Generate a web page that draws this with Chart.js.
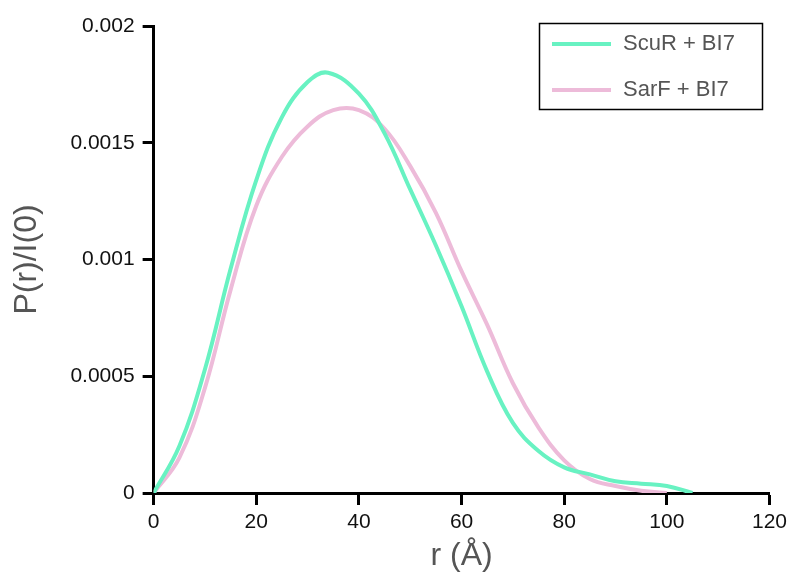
<!DOCTYPE html>
<html>
<head>
<meta charset="utf-8">
<script src="https://cdn.jsdelivr.net/npm/chart.js@4.4.0/dist/chart.umd.min.js"></script>
<style>
  html, body { margin: 0; padding: 0; background: #fff; }
  #wrap { width: 794px; height: 578px; }
</style>
</head>
<body>
<div id="wrap"><canvas id="chart" width="794" height="578"></canvas></div>
<script>
// r values (Å) and P(r)/I(0)
const scurR = [0, 5, 10, 15, 20, 25, 30, 34, 40, 45, 50, 55, 60, 65, 70, 75, 80, 85, 90, 95, 100, 105];
const scurP = [0, 0.0002, 0.00053, 0.00096, 0.00134, 0.00161, 0.00176, 0.0018, 0.00171, 0.00154, 0.0013, 0.00106, 0.0008, 0.00052, 0.0003, 0.00018, 0.00011, 0.00008, 0.00005, 0.00004, 0.00003, 0];

const sarfR = [0, 5, 10, 15, 20, 25, 30, 35, 40, 45, 50, 55, 60, 65, 70, 75, 80, 85, 90, 95, 100];
const sarfP = [0, 0.00015, 0.00045, 0.00087, 0.00123, 0.00144, 0.00157, 0.00164, 0.00164, 0.00156, 0.0014, 0.0012, 0.00095, 0.00072, 0.00047, 0.00028, 0.00014, 0.00006, 0.00003, 0.00001, 0];

const seriesNames = ['ScuR + BI7', 'SarF + BI7'];
const seriesColors = ['#68F2C2', '#EDBBD9'];
const xTicks = [0, 20, 40, 60, 80, 100, 120];
const yTicks = [0, 0.0005, 0.001, 0.0015, 0.002];

function toPoints(xs, ys) {
    return xs.map((x, i) => ({ x: x, y: ys[i] }));
}

// legend box with a thin black border, top right
const boxLegend = {
    id: 'boxLegend',
    afterDraw(chart) {
        const ctx = chart.ctx;
        ctx.save();
        ctx.strokeStyle = '#000';
        ctx.lineWidth = 1.5;
        ctx.strokeRect(539.5, 23.5, 223, 86);
        chart.data.datasets.forEach((ds, i) => {
            const y = 44 + i * 46;
            ctx.strokeStyle = ds.borderColor;
            ctx.lineWidth = 4;
            ctx.beginPath();
            ctx.moveTo(552, y);
            ctx.lineTo(611, y);
            ctx.stroke();
            ctx.fillStyle = '#555';
            ctx.font = '22px Arial, "Liberation Sans", sans-serif';
            ctx.textBaseline = 'middle';
            ctx.fillText(ds.label, 623, y);
        });
        ctx.restore();
    }
};

const ctx = document.getElementById('chart').getContext('2d');
const myChart = new Chart(ctx, {
    type: 'scatter',
    data: {
        datasets: [
            {
                label: seriesNames[0],
                data: toPoints(scurR, scurP),
                borderColor: seriesColors[0],
                showLine: true,
                borderWidth: 4,
                pointRadius: 0,
                tension: 0.4
            },
            {
                label: seriesNames[1],
                data: toPoints(sarfR, sarfP),
                borderColor: seriesColors[1],
                showLine: true,
                borderWidth: 4,
                pointRadius: 0,
                tension: 0.4
            }
        ]
    },
    options: {
        responsive: false,
        animation: false,
        layout: { padding: { left: 8, right: 10, top: 26, bottom: 6 } },
        plugins: {
            legend: { display: false },
            tooltip: { enabled: false }
        },
        scales: {
            x: {
                type: 'linear',
                min: 0,
                max: 120,
                afterBuildTicks: axis => { axis.ticks = xTicks.map(v => ({ value: v })); },
                grid: { display: true, drawOnChartArea: false, drawTicks: true, tickLength: 12, tickWidth: 3, tickColor: '#000' },
                border: { display: true, width: 3, color: '#000' },
                ticks: {
                    color: '#111',
                    font: { family: 'Arial, "Liberation Sans", sans-serif', size: 21, lineHeight: 1 },
                    padding: 7,
                    maxRotation: 0
                },
                title: {
                    display: true,
                    text: 'r (Å)',
                    color: '#555',
                    font: { family: 'Arial, "Liberation Sans", sans-serif', size: 32, lineHeight: 1 },
                    padding: { top: 0, bottom: 0 }
                }
            },
            y: {
                type: 'linear',
                min: 0,
                max: 0.002,
                afterBuildTicks: axis => { axis.ticks = yTicks.map(v => ({ value: v })); },
                grid: { display: true, drawOnChartArea: false, drawTicks: true, tickLength: 11, tickWidth: 3, tickColor: '#000' },
                border: { display: true, width: 3, color: '#000' },
                ticks: {
                    color: '#111',
                    font: { family: 'Arial, "Liberation Sans", sans-serif', size: 21 },
                    padding: 8,
                    callback: v => String(+v.toFixed(4))
                },
                title: {
                    display: true,
                    text: 'P(r)/I(0)',
                    color: '#555',
                    font: { family: 'Arial, "Liberation Sans", sans-serif', size: 32 },
                    padding: { top: 0, bottom: 16 }
                }
            }
        }
    },
    plugins: [boxLegend]
});
</script>
</body>
</html>
